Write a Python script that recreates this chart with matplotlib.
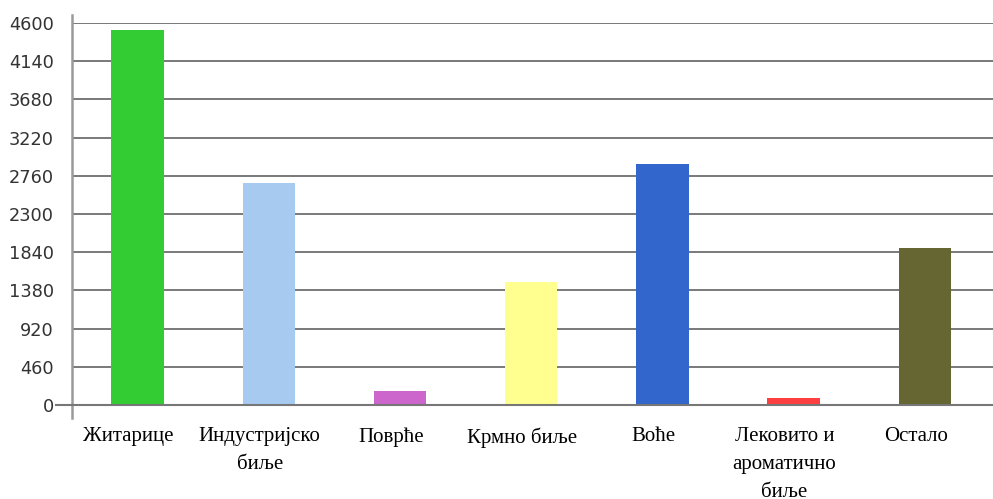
import matplotlib.pyplot as plt
import matplotlib.transforms as mtransforms

# categories and values
categories = ['Житарице', 'Индустријско\nбиље', 'Поврће', 'Крмно биље',
              'Воће', 'Лековито и\nароматично\nбиље', 'Остало']
values = [4520, 2670, 170, 1480, 2900, 85, 1890]
colors = ['#33CC33', '#A6CAF0', '#CC66CC', '#FFFF8F',
          '#3366CC', '#FF3F3F', '#666633']
yticks = [0, 460, 920, 1380, 1840, 2300, 2760, 3220, 3680, 4140, 4600]

fig = plt.figure(figsize=(9.93, 4.99), dpi=100)
ax = fig.add_axes([72 / 993, 1 - 405 / 499, 1 - 72 / 993, (405 - 23) / 499])

x = list(range(len(categories)))
ax.bar(x, values, width=0.4, color=colors, zorder=3)

ax.set_xlim(-0.5, 6.52)
ax.set_ylim(0, 4600)
ax.set_yticks(yticks)
ax.set_yticklabels([str(t) for t in yticks], fontsize=12.8, color='#333333',
                   family='DejaVu Sans')
ax.tick_params(axis='y', length=0, pad=13)

ax.set_xticks(x)
ax.set_xticklabels(categories, fontsize=15, family='Liberation Serif',
                   linespacing=1.62, color='black')
ax.tick_params(axis='x', length=0, pad=16)
# labels sit a little left of the bars in the original
shift = mtransforms.ScaledTranslation(-9 / 100, 0, fig.dpi_scale_trans)
for lbl in ax.get_xticklabels():
    lbl.set_transform(lbl.get_transform() + shift)

# horizontal grid lines
for t in yticks[1:]:
    ax.axhline(t, color='#6e6e6e', lw=1.3, zorder=1)

for s in ax.spines.values():
    s.set_visible(False)

# axis lines (left one runs a bit past the plot area, zero line sticks out left)
ax.plot([0, 0], [-0.035, 1.02], transform=ax.transAxes, color='#9a9a9a',
        lw=1.8, clip_on=False, zorder=4)
ax.plot([-0.017, 1], [0, 0], transform=ax.transAxes, color='#777777',
        lw=1.5, clip_on=False, zorder=4)

fig.savefig('out.png', dpi=100)
